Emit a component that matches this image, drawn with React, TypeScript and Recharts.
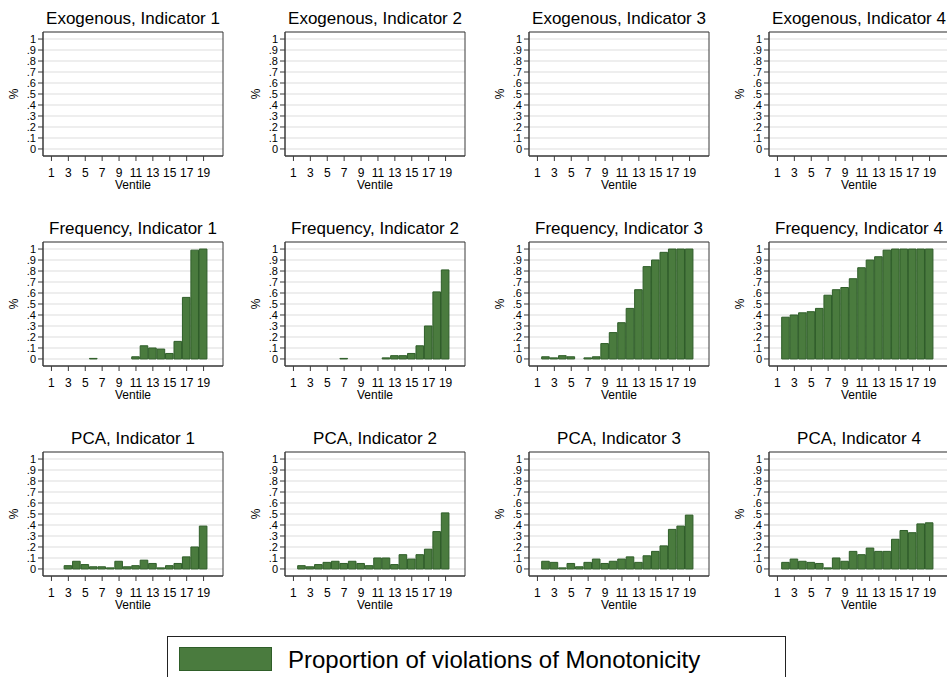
import React from 'react';
import { BarChart, Bar, XAxis, YAxis, CartesianGrid, ReferenceArea } from 'recharts';

const ventiles = [1, 2, 3, 4, 5, 6, 7, 8, 9, 10, 11, 12, 13, 14, 15, 16, 17, 18, 19];
const xTicks = [1, 3, 5, 7, 9, 11, 13, 15, 17, 19];
const yTicks = [0, 0.1, 0.2, 0.3, 0.4, 0.5, 0.6, 0.7, 0.8, 0.9, 1];

const exoInd1 = [0, 0, 0, 0, 0, 0, 0, 0, 0, 0, 0, 0, 0, 0, 0, 0, 0, 0, 0];
const exoInd2 = [0, 0, 0, 0, 0, 0, 0, 0, 0, 0, 0, 0, 0, 0, 0, 0, 0, 0, 0];
const exoInd3 = [0, 0, 0, 0, 0, 0, 0, 0, 0, 0, 0, 0, 0, 0, 0, 0, 0, 0, 0];
const exoInd4 = [0, 0, 0, 0, 0, 0, 0, 0, 0, 0, 0, 0, 0, 0, 0, 0, 0, 0, 0];

const freqInd1 = [0, 0, 0, 0, 0, 0.005, 0, 0, 0, 0, 0.02, 0.12, 0.1, 0.09, 0.05, 0.16, 0.56, 0.99, 1.0];
const freqInd2 = [0, 0, 0, 0, 0, 0, 0.005, 0, 0, 0, 0, 0.01, 0.03, 0.03, 0.05, 0.12, 0.3, 0.61, 0.81];
const freqInd3 = [0, 0.02, 0.01, 0.03, 0.02, 0, 0.01, 0.02, 0.14, 0.24, 0.33, 0.46, 0.63, 0.84, 0.9, 0.97, 1.0, 1.0, 1.0];
const freqInd4 = [0, 0.38, 0.4, 0.42, 0.43, 0.46, 0.58, 0.63, 0.65, 0.73, 0.83, 0.9, 0.93, 0.99, 1.0, 1.0, 1.0, 1.0, 1.0];

const pcaInd1 = [0, 0, 0.03, 0.07, 0.04, 0.02, 0.02, 0.01, 0.07, 0.02, 0.03, 0.08, 0.05, 0.01, 0.03, 0.05, 0.11, 0.2, 0.39];
const pcaInd2 = [0, 0.03, 0.02, 0.04, 0.06, 0.07, 0.05, 0.07, 0.05, 0.03, 0.1, 0.1, 0.04, 0.13, 0.09, 0.13, 0.18, 0.34, 0.51];
const pcaInd3 = [0, 0.07, 0.06, 0.01, 0.05, 0.02, 0.06, 0.09, 0.05, 0.07, 0.09, 0.11, 0.06, 0.12, 0.16, 0.21, 0.36, 0.39, 0.49];
const pcaInd4 = [0, 0.06, 0.09, 0.07, 0.06, 0.05, 0.01, 0.1, 0.07, 0.16, 0.13, 0.19, 0.16, 0.16, 0.27, 0.35, 0.33, 0.41, 0.42];

const panels = [
  { title: 'Exogenous, Indicator 1', values: exoInd1 },
  { title: 'Exogenous, Indicator 2', values: exoInd2 },
  { title: 'Exogenous, Indicator 3', values: exoInd3 },
  { title: 'Exogenous, Indicator 4', values: exoInd4 },
  { title: 'Frequency, Indicator 1', values: freqInd1 },
  { title: 'Frequency, Indicator 2', values: freqInd2 },
  { title: 'Frequency, Indicator 3', values: freqInd3 },
  { title: 'Frequency, Indicator 4', values: freqInd4 },
  { title: 'PCA, Indicator 1', values: pcaInd1 },
  { title: 'PCA, Indicator 2', values: pcaInd2 },
  { title: 'PCA, Indicator 3', values: pcaInd3 },
  { title: 'PCA, Indicator 4', values: pcaInd4 },
];

const legendLabel = 'Proportion of violations of Monotonicity';

// layout of the stata-style grid
const colLeft = [43, 285, 529, 769];
const rowTop = [32, 242, 452];
const plotW = 180;
const plotH = 124;
const axisW = 43;
const axisH = 44;
const rightPad = 19;
const xDomain: [number, number] = [0, 21.3];
const yDomain: [number, number] = [-0.064, 1.064];

const FONT = '"Liberation Sans", Arial, Helvetica, sans-serif';
const GREEN = '#4a7b3e';
const GREEN_DARK = '#2f5e29';
const INK = '#3a3a3a';

const fmtY = (v: number) => (v === 0 ? '0' : v === 1 ? '1' : '.' + Math.round(v * 10));

const PctLabel = (props: any) => {
  const vb = props.viewBox || {};
  const cx = vb.x + 14;
  const cy = vb.y + vb.height / 2;
  return (
    <text x={cx} y={cy} transform={`rotate(-90 ${cx} ${cy})`} textAnchor="middle" dominantBaseline="central" fontSize={12} fill="#000" fontFamily={FONT}>
      %
    </text>
  );
};

const VentileLabel = (props: any) => {
  const vb = props.viewBox || {};
  return (
    <text x={vb.x + vb.width / 2} y={vb.y + 33} textAnchor="middle" fontSize={12} fill="#000" fontFamily={FONT}>
      Ventile
    </text>
  );
};

const Panel = ({ title, values, left, top }: { title: string; values: number[]; left: number; top: number }) => {
  const data = ventiles.map((v, i) => ({ ventile: v, share: values[i] }));
  const barW = plotW / (xDomain[1] - xDomain[0]);
  return (
    <div style={{ position: 'absolute', left: left - axisW, top: top - 32, width: axisW + plotW + rightPad, height: 32 + plotH + axisH }}>
      <div
        style={{
          position: 'absolute',
          left: axisW,
          width: plotW,
          top: 9,
          textAlign: 'center',
          fontFamily: FONT,
          fontSize: 17,
          lineHeight: '20px',
          color: '#000',
          whiteSpace: 'nowrap',
        }}
      >
        {title}
      </div>
      <BarChart
        width={axisW + plotW + rightPad}
        height={32 + plotH + axisH}
        data={data}
        margin={{ top: 32, right: rightPad, bottom: 0, left: 0 }}
        barCategoryGap={0}
        barSize={barW}
      >
        <CartesianGrid horizontal vertical={false} stroke="#e8e8e8" strokeWidth={1.6} />
        <XAxis
          dataKey="ventile"
          type="number"
          domain={xDomain}
          allowDataOverflow
          ticks={xTicks}
          interval={0}
          height={axisH}
          tickSize={5}
          tickMargin={7}
          tick={{ fontSize: 12, fill: '#000', fontFamily: FONT }}
          stroke={INK}
          label={<VentileLabel />}
        />
        <YAxis
          type="number"
          domain={yDomain}
          allowDataOverflow
          ticks={yTicks}
          interval={0}
          width={axisW}
          tickSize={5}
          tickMargin={2}
          tickFormatter={fmtY}
          tick={{ fontSize: 11, fill: '#000', fontFamily: FONT }}
          stroke={INK}
          label={<PctLabel />}
        />
        <Bar dataKey="share" fill={GREEN} stroke={GREEN_DARK} strokeWidth={1} isAnimationActive={false} />
        <ReferenceArea x1={xDomain[0]} x2={xDomain[1]} y1={yDomain[0]} y2={yDomain[1]} fill="none" stroke={INK} strokeWidth={1} ifOverflow="visible" />
      </BarChart>
    </div>
  );
};

export default function App() {
  return (
    <div style={{ position: 'absolute', left: 0, top: 0, width: 947, height: 677, overflow: 'hidden', background: '#fff' }}>
      {panels.map((p, i) => (
        <Panel key={p.title} title={p.title} values={p.values} left={colLeft[i % 4]} top={rowTop[Math.floor(i / 4)]} />
      ))}
      <div
        style={{
          position: 'absolute',
          left: 167,
          top: 636,
          width: 619,
          height: 60,
          border: '1px solid #222',
          boxSizing: 'border-box',
          fontFamily: FONT,
        }}
      >
        <div style={{ position: 'absolute', left: 11, top: 10, width: 93, height: 24, background: GREEN, border: `1px solid ${GREEN_DARK}`, boxSizing: 'border-box' }} />
        <div style={{ position: 'absolute', left: 120, top: 8, fontSize: 24, lineHeight: '30px', color: '#000', whiteSpace: 'nowrap' }}>{legendLabel}</div>
      </div>
    </div>
  );
}
